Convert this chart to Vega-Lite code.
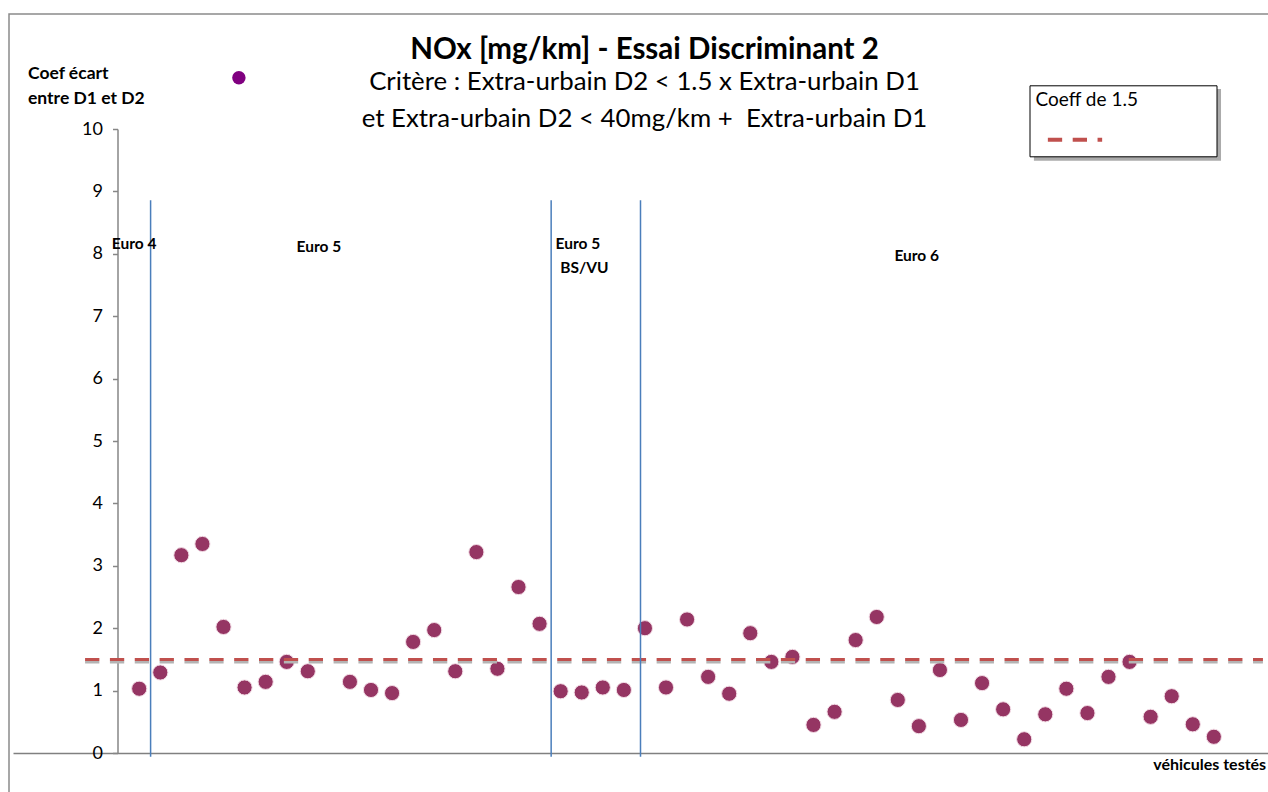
{
  "$schema": "https://vega.github.io/schema/vega-lite/v6.json",
  "width": 1259,
  "height": 778,
  "autosize": {"type": "none"},
  "padding": {"left": 9, "top": 14, "right": 0, "bottom": 0},
  "background": "white",
  "config": {
    "font": "Lato",
    "view": {"stroke": "#8a8a8a", "strokeWidth": 1.5, "strokeDash": [1259, 2037, 778, 10]}
  },
  "title": {
    "text": "NOx [mg/km] - Essai Discriminant 2",
    "subtitle": ["Critère : Extra-urbain D2 < 1.5 x Extra-urbain D1", "et Extra-urbain D2 < 40mg/km +\u00a0 Extra-urbain D1"],
    "anchor": "middle",
    "frame": "group",
    "dx": 6,
    "offset": -119,
    "font": "Lato",
    "fontSize": 29.5,
    "fontWeight": "bold",
    "color": "black",
    "subtitleFont": "Lato",
    "subtitleFontSize": 25.8,
    "subtitleColor": "black",
    "subtitleLineHeight": 37,
    "subtitlePadding": 5
  },
  "datasets": {
    "vehicules": [
      {"vehicule": 1, "coef": 1.03}, {"vehicule": 2, "coef": 1.29}, {"vehicule": 3, "coef": 3.17},
      {"vehicule": 4, "coef": 3.35}, {"vehicule": 5, "coef": 2.02}, {"vehicule": 6, "coef": 1.05},
      {"vehicule": 7, "coef": 1.14}, {"vehicule": 8, "coef": 1.46}, {"vehicule": 9, "coef": 1.31},
      {"vehicule": 11, "coef": 1.14}, {"vehicule": 12, "coef": 1.01},
      {"vehicule": 13, "coef": 0.96}, {"vehicule": 14, "coef": 1.78}, {"vehicule": 15, "coef": 1.97},
      {"vehicule": 16, "coef": 1.31}, {"vehicule": 17, "coef": 3.22}, {"vehicule": 18, "coef": 1.35},
      {"vehicule": 19, "coef": 2.66}, {"vehicule": 20, "coef": 2.07}, {"vehicule": 21, "coef": 0.99},
      {"vehicule": 22, "coef": 0.97}, {"vehicule": 23, "coef": 1.05}, {"vehicule": 24, "coef": 1.01},
      {"vehicule": 25, "coef": 2.0}, {"vehicule": 26, "coef": 1.05}, {"vehicule": 27, "coef": 2.14},
      {"vehicule": 28, "coef": 1.22}, {"vehicule": 29, "coef": 0.95}, {"vehicule": 30, "coef": 1.92},
      {"vehicule": 31, "coef": 1.46}, {"vehicule": 32, "coef": 1.54}, {"vehicule": 33, "coef": 0.45},
      {"vehicule": 34, "coef": 0.66}, {"vehicule": 35, "coef": 1.81}, {"vehicule": 36, "coef": 2.18},
      {"vehicule": 37, "coef": 0.85}, {"vehicule": 38, "coef": 0.43}, {"vehicule": 39, "coef": 1.33},
      {"vehicule": 40, "coef": 0.53}, {"vehicule": 41, "coef": 1.12}, {"vehicule": 42, "coef": 0.7},
      {"vehicule": 43, "coef": 0.22}, {"vehicule": 44, "coef": 0.62}, {"vehicule": 45, "coef": 1.03},
      {"vehicule": 46, "coef": 0.64}, {"vehicule": 47, "coef": 1.22}, {"vehicule": 48, "coef": 1.46},
      {"vehicule": 49, "coef": 0.58}, {"vehicule": 50, "coef": 0.91}, {"vehicule": 51, "coef": 0.46},
      {"vehicule": 52, "coef": 0.26}
    ],
    "isole": [{"vehicule": 5.73, "coef": 10.82}],
    "seuil": [{"x": -1.57, "x2": 54.33, "coef": 1.5, "serie": "Coeff de 1.5"}],
    "separations": [
      {"x": 1.54, "y": -0.06, "y2": 8.86},
      {"x": 20.55, "y": -0.06, "y2": 8.86},
      {"x": 24.79, "y": -0.06, "y2": 8.86}
    ],
    "normes": [
      {"x": -0.3, "y": 8.08, "label": "Euro 4"},
      {"x": 8.47, "y": 8.03, "label": "Euro 5"},
      {"x": 20.76, "y": 8.08, "label": "Euro 5"},
      {"x": 20.98, "y": 7.7, "label": "BS/VU"},
      {"x": 36.84, "y": 7.89, "label": "Euro 6"}
    ],
    "ombre": [{"x": 43.46, "x2": 52.34, "y": 10.64, "y2": 9.49}]
  },
  "encoding": {
    "x": {
      "type": "quantitative",
      "scale": {"domain": [-4.99, 54.57], "range": [4, 1259], "nice": false, "zero": false},
      "axis": {
        "orient": "bottom",
        "offset": -39,
        "title": "véhicules testés",
        "titleFont": "Lato",
        "titleFontSize": 16,
        "titleFontWeight": "bold",
        "titleColor": "black",
        "titleAlign": "left",
        "titleBaseline": "alphabetic",
        "titleX": 1143.7,
        "titleY": 16,
        "labels": false,
        "ticks": false,
        "grid": false,
        "domainColor": "#808080",
        "domainWidth": 1.5
      }
    },
    "y": {
      "type": "quantitative",
      "scale": {"domain": [0, 10], "range": [739, 115], "nice": false, "zero": false},
      "axis": {
        "orient": "left",
        "offset": -108.5,
        "values": [0, 1, 2, 3, 4, 5, 6, 7, 8, 9, 10],
        "format": "d",
        "grid": false,
        "domainColor": "#868686",
        "domainWidth": 1.5,
        "tickColor": "#868686",
        "tickSize": 5,
        "tickWidth": 1.5,
        "labelFont": "Lato",
        "labelFontSize": 18,
        "labelColor": "black",
        "labelPadding": 10,
        "title": ["Coef écart", "entre D1 et D2"],
        "titleFont": "Lato",
        "titleFontSize": 17.5,
        "titleFontWeight": "bold",
        "titleColor": "black",
        "titleAngle": 0,
        "titleAlign": "left",
        "titleBaseline": "alphabetic",
        "titleX": -90,
        "titleY": 64,
        "titleLineHeight": 25
      }
    }
  },
  "layer": [
    {
      "data": {"name": "ombre"},
      "mark": {"type": "rect", "color": "#9c9c9c", "opacity": 0.85},
      "encoding": {
        "x": {"field": "x"}, "x2": {"field": "x2"},
        "y": {"field": "y"}, "y2": {"field": "y2"}
      }
    },
    {
      "data": {"name": "vehicules"},
      "mark": {"type": "point", "shape": "circle", "filled": true, "size": 230, "color": "#953563", "opacity": 1, "stroke": "#f3dde6", "strokeWidth": 1},
      "encoding": {"x": {"field": "vehicule"}, "y": {"field": "coef"}}
    },
    {
      "data": {"name": "isole"},
      "mark": {"type": "point", "shape": "circle", "filled": true, "size": 180, "color": "#800080", "opacity": 1},
      "encoding": {"x": {"field": "vehicule"}, "y": {"field": "coef"}}
    },
    {
      "data": {"name": "seuil"},
      "mark": {"type": "rule", "color": "#b4b4b4", "strokeWidth": 2.5, "strokeDash": [14.3, 10.55], "yOffset": 2.8},
      "encoding": {"x": {"field": "x"}, "x2": {"field": "x2"}, "y": {"field": "coef"}}
    },
    {
      "data": {"name": "seuil"},
      "mark": {"type": "rule", "strokeWidth": 3, "strokeDash": [14.3, 10.55]},
      "encoding": {
        "x": {"field": "x"}, "x2": {"field": "x2"}, "y": {"field": "coef"},
        "color": {
          "field": "serie", "type": "nominal",
          "scale": {"range": ["#c0504d"]},
          "legend": {
            "orient": "none",
            "legendX": 1020.5,
            "legendY": 71.3,
            "title": "Coeff de 1.5",
            "titleFont": "Lato",
            "titleFontSize": 19,
            "titleFontWeight": "normal",
            "titleColor": "black",
            "titlePadding": 0,
            "padding": 6,
            "strokeColor": "#000000",
            "fillColor": "white",
            "symbolType": "stroke",
            "symbolSize": 2948,
            "symbolStrokeWidth": 4,
            "symbolDash": [14.3, 10.55],
            "symbolOffset": 10,
            "labelExpr": "'Coeff de 1.5'",
            "labelOpacity": 0,
            "labelFontSize": 18.7,
            "labelOffset": 4
          }
        }
      }
    },
    {
      "data": {"name": "separations"},
      "mark": {"type": "rule", "color": "#4a7ebb", "strokeWidth": 1.5},
      "encoding": {"x": {"field": "x"}, "y": {"field": "y"}, "y2": {"field": "y2"}}
    },
    {
      "data": {"name": "normes"},
      "mark": {"type": "text", "align": "left", "baseline": "alphabetic", "font": "Lato", "fontSize": 15.5, "fontWeight": "bold", "color": "black"},
      "encoding": {"x": {"field": "x"}, "y": {"field": "y"}, "text": {"field": "label"}}
    }
  ]
}
